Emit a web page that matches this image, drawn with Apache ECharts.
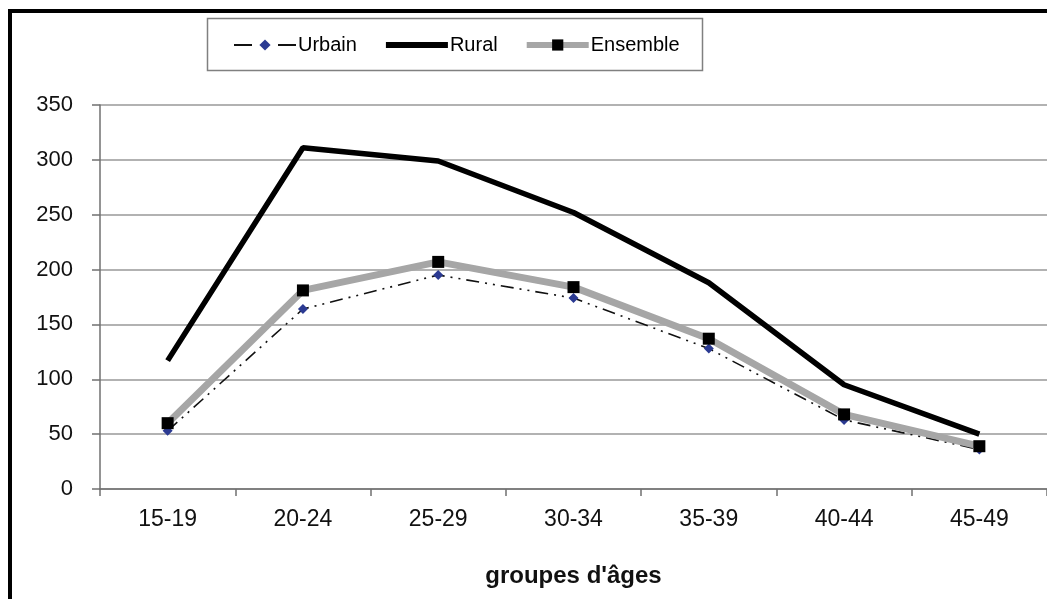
<!DOCTYPE html>
<html>
<head>
<meta charset="utf-8">
<script src="https://cdn.jsdelivr.net/npm/echarts@6/dist/echarts.min.js"></script>
<style>
html,body{margin:0;padding:0;background:#fff;}
#chart{width:1047px;height:599px;}
</style>
</head>
<body>
<div id="chart"></div>
<script>
var categories = ['15-19','20-24','25-29','30-34','35-39','40-44','45-49'];
var urbain = [53, 164, 195, 174, 128, 63, 36];
var rural = [117, 311, 299, 252, 188, 95, 50];
var ensemble = [60, 181, 207, 184, 137, 68, 39];
var yTicks = [0, 50, 100, 150, 200, 250, 300, 350];
var xAxisTitle = "groupes d'âges";

var font = '"Liberation Sans", Arial, sans-serif';
var chart = echarts.init(document.getElementById('chart'), null, {renderer: 'canvas'});
chart.setOption({
  backgroundColor: '#ffffff',
  animation: false,
  graphic: [
    {type: 'rect', shape: {x: 10, y: 11, width: 1100, height: 700}, style: {fill: 'none', stroke: '#000', lineWidth: 4}, z: 100},
    {type: 'rect', shape: {x: 207.5, y: 18.5, width: 495, height: 52}, style: {fill: '#fff', stroke: '#808080', lineWidth: 1.5}, z: 0}
  ],
  legend: {
    left: 233,
    top: 35,
    padding: 0,
    itemWidth: 62,
    itemHeight: 14,
    itemGap: 26,
    textStyle: {fontFamily: font, fontSize: 20, color: '#000', padding: [0, 0, 0, -3]},
    data: [
      {name: 'Urbain', lineStyle: {width: 2, type: [18, 26], color: '#111'}, itemStyle: {color: '#2b3a92'}},
      {name: 'Rural', lineStyle: {width: 6, color: '#000'}, itemStyle: {color: 'rgba(0,0,0,0)', borderWidth: 0, opacity: 0}},
      {name: 'Ensemble', lineStyle: {width: 6, color: '#a6a6a6'}, itemStyle: {color: '#000'}}
    ],
    z: 10
  },
  grid: {left: 100, right: -5, top: 105, bottom: 110, containLabel: false},
  xAxis: {
    type: 'category',
    data: categories,
    boundaryGap: true,
    axisLine: {lineStyle: {color: '#707070', width: 1.5}},
    axisTick: {show: true, length: 7, inside: false, lineStyle: {color: '#707070', width: 1.5}},
    axisLabel: {fontFamily: font, fontSize: 23, color: '#111', margin: 19},
    name: xAxisTitle,
    nameLocation: 'middle',
    nameGap: 75,
    nameTextStyle: {fontFamily: font, fontSize: 24, fontWeight: 'bold', color: '#111'}
  },
  yAxis: {
    type: 'value',
    min: yTicks[0],
    max: yTicks[yTicks.length - 1],
    interval: 50,
    axisLine: {show: true, lineStyle: {color: '#707070', width: 1.5}},
    axisTick: {show: true, length: 8, inside: false, lineStyle: {color: '#707070', width: 1.5}},
    axisLabel: {fontFamily: font, fontSize: 22, color: '#111', margin: 27},
    splitLine: {show: true, lineStyle: {color: '#999999', width: 1.5}}
  },
  series: [
    {
      name: 'Urbain', type: 'line', data: urbain,
      symbol: 'diamond', symbolSize: 10, showAllSymbol: true,
      lineStyle: {color: '#111', width: 1.6, type: [13, 6, 2, 6, 2, 6]},
      itemStyle: {color: '#2b3a92'},
      z: 2
    },
    {
      name: 'Rural', type: 'line', data: rural,
      symbol: 'none',
      lineStyle: {color: '#000', width: 5.5},
      itemStyle: {color: '#000'},
      z: 4
    },
    {
      name: 'Ensemble', type: 'line', data: ensemble,
      symbol: 'rect', symbolSize: 12, showAllSymbol: true,
      lineStyle: {color: '#a6a6a6', width: 7},
      itemStyle: {color: '#000'},
      z: 3
    }
  ]
});
</script>
</body>
</html>
